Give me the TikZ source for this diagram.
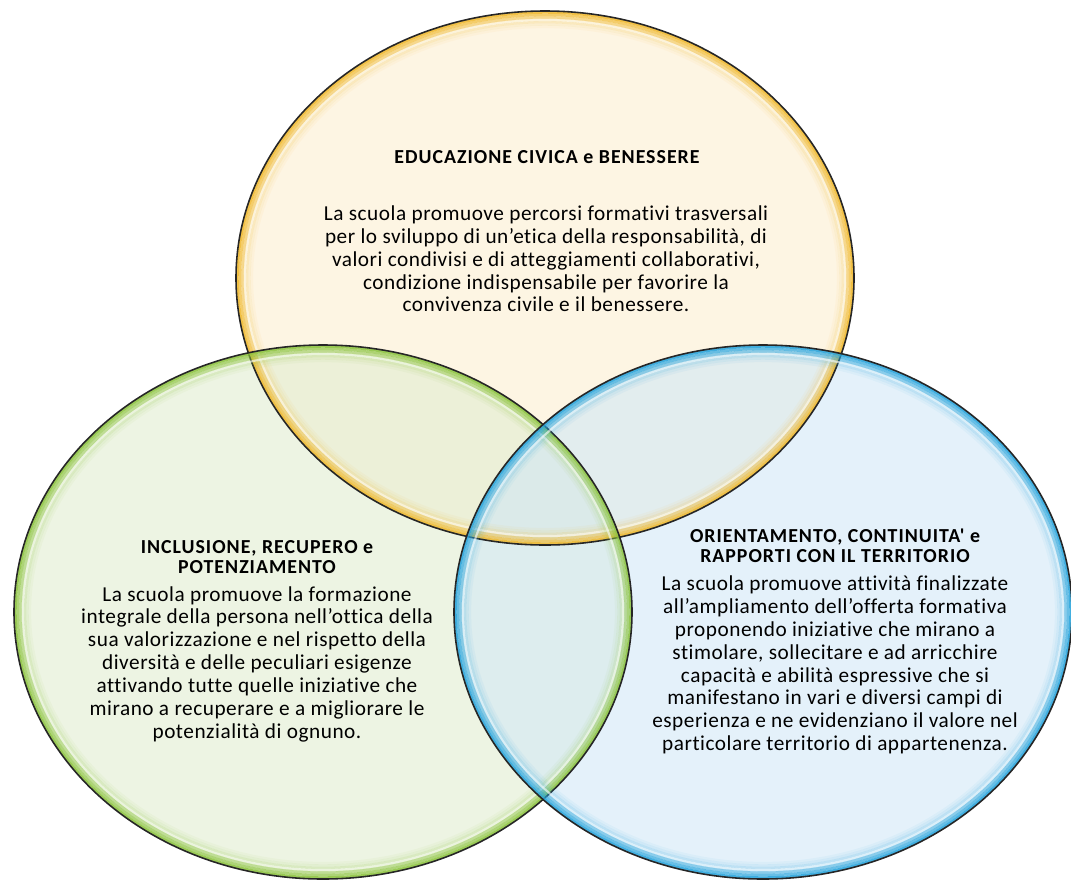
\documentclass[tikz,border=0pt]{standalone}
\usepackage{fontspec}
\newfontfamily\carlitowide{Carlito}[Ligatures=NoCommon, LetterSpace=2.5]
\newfontfamily\carlitotitle{Carlito}[Ligatures=NoCommon, LetterSpace=5]
\definecolor{civicafill}{RGB}{252,238,208}
\definecolor{civicarim}{RGB}{240,184,44}
\definecolor{inclusfill}{RGB}{225,237,208}
\definecolor{inclusrim}{RGB}{140,196,62}
\definecolor{orientfill}{RGB}{210,232,247}
\definecolor{orientrim}{RGB}{38,164,220}
\tikzset{
	title/.style={font=\carlitotitle\bfseries\fontsize{11.3}{11.6}\selectfont, align=center, inner sep=0pt},
	body/.style={font=\carlitowide\fontsize{12.1}{13}\selectfont, align=center, inner sep=0pt},
}
\begin{document}
\begin{tikzpicture}[x=0.02cm, y=-0.02cm]
		\useasboundingbox (0,0) rectangle (1071,883);
		\def\rx{309}
		\def\ry{267}
		\coordinate (C1) at (545,278);
		\coordinate (C2) at (323,612);
		\coordinate (C3) at (763,612);
		
		%Fills
		\fill[civicafill, fill opacity=0.6] (C1) ellipse ({\rx} and {\ry});
		\fill[inclusfill, fill opacity=0.6] (C2) ellipse ({\rx} and {\ry});
		\fill[orientfill, fill opacity=0.6] (C3) ellipse ({\rx} and {\ry});
		
		%Rims
		\foreach \c/\col in {C1/civicarim, C2/inclusrim, C3/orientrim}{
			\foreach \k/\o in {0/0.85,1/0.65,2/0.47,3/0.32,4/0.2,5/0.11,6/0.05}
				\draw[\col, line width=1.4pt, opacity=\o] (\c) ellipse ({\rx-1.5-2.4*\k} and {\ry-1.5-2.4*\k});
			\draw[white, line width=1.2pt, opacity=0.6] (\c) ellipse ({\rx-9} and {\ry-9});
			\draw[black!85, line width=0.9pt] (\c) ellipse ({\rx} and {\ry});
		}
		
		%Circle top
		\node[title] (T1) at (547,157) {EDUCAZIONE CIVICA e BENESSERE};
		\node[body] (B1) at (546,259) {La scuola promuove percorsi formativi trasversali\\per lo sviluppo di un’etica della responsabilità, di\\valori condivisi e di atteggiamenti collaborativi,\\condizione indispensabile per favorire la\\convivenza civile e il benessere.};
		
		%Circle left
		\node[title] (T2) at (257,557) {INCLUSIONE, RECUPERO e\\POTENZIAMENTO};
		\node[body] (B2) at (257,664) {La scuola promuove la formazione\\integrale della persona nell’ottica della\\sua valorizzazione e nel rispetto della\\diversità e delle peculiari esigenze\\attivando tutte quelle iniziative che\\mirano a recuperare e a migliorare le\\potenzialità di ognuno.};
		
		%Circle right
		\node[title] (T3) at (835,546) {ORIENTAMENTO, CONTINUITA' e\\RAPPORTI CON IL TERRITORIO};
		\node[body] (B3) at (835,665) {La scuola promuove attività finalizzate\\all’ampliamento dell’offerta formativa\\proponendo iniziative che mirano a\\stimolare, sollecitare e ad arricchire\\capacità e abilità espressive che si\\manifestano in vari e diversi campi di\\esperienza e ne evidenziano il valore nel\\particolare territorio di appartenenza.};
		
\end{tikzpicture}
\end{document}
